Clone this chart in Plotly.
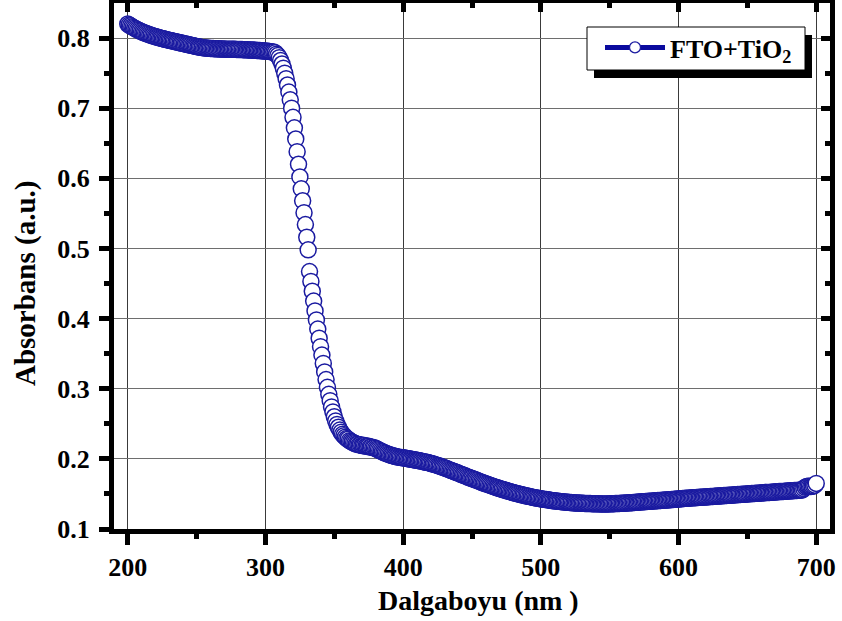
import plotly.graph_objects as go

# Measured absorbance of the FTO+TiO2 film, 1 nm steps
wl_uv = list(range(200, 306))
abs_uv = [
    0.8200, 0.8187, 0.8175, 0.8163, 0.8152, 0.8141, 0.8130, 0.8120, 0.8110, 0.8101,
    0.8092, 0.8083, 0.8075, 0.8067, 0.8060, 0.8053, 0.8046, 0.8039, 0.8033, 0.8027,
    0.8021, 0.8015, 0.8010, 0.8004, 0.7999, 0.7994, 0.7989, 0.7984, 0.7979, 0.7974,
    0.7970, 0.7965, 0.7961, 0.7956, 0.7952, 0.7947, 0.7943, 0.7938, 0.7934, 0.7929,
    0.7925, 0.7920, 0.7916, 0.7911, 0.7907, 0.7902, 0.7898, 0.7893, 0.7889, 0.7884,
    0.7880, 0.7876, 0.7872, 0.7868, 0.7865, 0.7862, 0.7860, 0.7858, 0.7856, 0.7854,
    0.7853, 0.7851, 0.7850, 0.7849, 0.7848, 0.7847, 0.7846, 0.7845, 0.7844, 0.7843,
    0.7843, 0.7842, 0.7842, 0.7841, 0.7841, 0.7840, 0.7840, 0.7839, 0.7839, 0.7838,
    0.7838, 0.7837, 0.7837, 0.7836, 0.7835, 0.7834, 0.7833, 0.7832, 0.7831, 0.7830,
    0.7829, 0.7828, 0.7827, 0.7825, 0.7824, 0.7822, 0.7821, 0.7819, 0.7818, 0.7816,
    0.7815, 0.7813, 0.7811, 0.7808, 0.7806, 0.7803,
]

wl_edge = list(range(306, 381))
abs_edge = [
    0.780, 0.779, 0.777, 0.775, 0.772, 0.768, 0.763, 0.757, 0.750, 0.742,
    0.733, 0.723, 0.712, 0.700, 0.687, 0.672, 0.656, 0.638, 0.620, 0.602,
    0.585, 0.568, 0.551, 0.534, 0.516, 0.498,
    0.467, 0.453, 0.439, 0.425, 0.411, 0.398, 0.385, 0.372, 0.360, 0.348,
    0.336, 0.324, 0.313, 0.302, 0.292, 0.283, 0.274, 0.267, 0.260, 0.254,
    0.249, 0.245, 0.241, 0.238, 0.235, 0.233, 0.231, 0.229, 0.228, 0.226,
    0.225, 0.224, 0.223, 0.222, 0.221, 0.221, 0.220, 0.220, 0.219, 0.219,
    0.219, 0.218, 0.218, 0.218, 0.217, 0.217, 0.216, 0.216, 0.215,
]

wl_vis = list(range(381, 701))
abs_vis = [
    0.2140, 0.2130, 0.2120, 0.2110, 0.2100, 0.2090, 0.2082, 0.2075, 0.2067, 0.2060,
    0.2054, 0.2048, 0.2042, 0.2037, 0.2032, 0.2027, 0.2024, 0.2021, 0.2018,
    0.2015, 0.2011, 0.2008, 0.2004, 0.2001, 0.1997, 0.1994, 0.1990, 0.1987, 0.1983,
    0.1980, 0.1976, 0.1972, 0.1968, 0.1964, 0.1960, 0.1956, 0.1951, 0.1947, 0.1942,
    0.1937, 0.1931, 0.1926, 0.1920, 0.1914, 0.1907, 0.1901, 0.1894, 0.1887, 0.1880,
    0.1873, 0.1865, 0.1858, 0.1850, 0.1843, 0.1835, 0.1828, 0.1820, 0.1812, 0.1804,
    0.1797, 0.1789, 0.1781, 0.1773, 0.1766, 0.1758, 0.1750, 0.1742, 0.1735, 0.1727,
    0.1720, 0.1712, 0.1705, 0.1697, 0.1690, 0.1682, 0.1675, 0.1667, 0.1660, 0.1653,
    0.1646, 0.1639, 0.1632, 0.1625, 0.1618, 0.1611, 0.1604, 0.1597, 0.1591, 0.1584,
    0.1578, 0.1572, 0.1566, 0.1560, 0.1554, 0.1548, 0.1542, 0.1536, 0.1531, 0.1525,
    0.1520, 0.1514, 0.1509, 0.1504, 0.1499, 0.1494, 0.1489, 0.1484, 0.1480, 0.1475,
    0.1471, 0.1466, 0.1462, 0.1458, 0.1454, 0.1450, 0.1446, 0.1442, 0.1439, 0.1435,
    0.1432, 0.1428, 0.1425, 0.1422, 0.1419, 0.1416, 0.1413, 0.1410, 0.1407, 0.1404,
    0.1402, 0.1399, 0.1397, 0.1394, 0.1392, 0.1390, 0.1388, 0.1386, 0.1384, 0.1382,
    0.1380, 0.1378, 0.1377, 0.1375, 0.1374, 0.1372, 0.1371, 0.1370, 0.1369, 0.1368,
    0.1367, 0.1366, 0.1365, 0.1364, 0.1363, 0.1362, 0.1362, 0.1361, 0.1361, 0.1360,
    0.1360, 0.1359, 0.1359, 0.1358, 0.1358, 0.1358, 0.1358, 0.1358, 0.1358, 0.1358,
    0.1359, 0.1359, 0.1360, 0.1361, 0.1362, 0.1363, 0.1364, 0.1365, 0.1366, 0.1367,
    0.1368, 0.1369, 0.1371, 0.1372, 0.1373, 0.1375, 0.1376, 0.1378, 0.1379, 0.1381,
    0.1382, 0.1384, 0.1385, 0.1387, 0.1388, 0.1390, 0.1391, 0.1393, 0.1394, 0.1396,
    0.1397, 0.1399, 0.1400, 0.1402, 0.1403, 0.1405, 0.1406, 0.1408, 0.1409, 0.1411,
    0.1412, 0.1414, 0.1415, 0.1417, 0.1418, 0.1420, 0.1421, 0.1423, 0.1424, 0.1426,
    0.1428, 0.1430, 0.1432, 0.1434, 0.1436, 0.1437, 0.1438, 0.1440, 0.1441, 0.1443,
    0.1444, 0.1446, 0.1447, 0.1449, 0.1450, 0.1451, 0.1452, 0.1454, 0.1455, 0.1457,
    0.1458, 0.1460, 0.1461, 0.1463, 0.1464, 0.1465, 0.1466, 0.1468, 0.1469, 0.1471,
    0.1472, 0.1474, 0.1475, 0.1477, 0.1478, 0.1479, 0.1480, 0.1482, 0.1483, 0.1485,
    0.1486, 0.1488, 0.1489, 0.1491, 0.1492, 0.1493, 0.1494, 0.1496, 0.1497, 0.1499,
    0.1500, 0.1502, 0.1503, 0.1505, 0.1506, 0.1507, 0.1508, 0.1510, 0.1511, 0.1513,
    0.1514, 0.1516, 0.1517, 0.1519, 0.1520, 0.1521, 0.1522, 0.1524, 0.1525, 0.1527,
    0.1528, 0.1530, 0.1531, 0.1533, 0.1534, 0.1535, 0.1536, 0.1538, 0.1539, 0.1541,
    0.1542, 0.1544, 0.1545, 0.1547, 0.1548, 0.1549, 0.1550, 0.1552, 0.1553, 0.1555,
    0.1560, 0.1575, 0.1595, 0.1605, 0.1610, 0.1608, 0.1605, 0.1610, 0.1615, 0.1625,
    0.1650,
]

x_ticks = [200, 300, 400, 500, 600, 700]
x_minor = [250, 350, 450, 550, 650]
y_ticks = [0.1, 0.2, 0.3, 0.4, 0.5, 0.6, 0.7, 0.8]
y_minor = [0.15, 0.25, 0.35, 0.45, 0.55, 0.65, 0.75]
x_range = [190, 710]
y_range = [0.1, 0.85]

series_name = "<b>FTO+TiO<sub>2</sub></b>"
x_title = "<b>Dalgaboyu (nm )</b>"
y_title = "<b>Absorbans (a.u.)</b>"

assert len(wl_uv) == len(abs_uv)
assert len(wl_edge) == len(abs_edge)
assert len(wl_vis) == len(abs_vis)
wavelength = wl_uv + wl_edge + wl_vis
absorbance = abs_uv + abs_edge + abs_vis

SERIF = "Liberation Serif"
MARK = "#1a1aa0"
LINE = "#0a0a9e"

fig = go.Figure()
fig.add_trace(go.Scatter(
    x=wavelength, y=absorbance, mode="markers", showlegend=False,
    marker=dict(symbol="circle", size=16, color="white",
                line=dict(color=MARK, width=1.5)),
))
# legend entry (line + open circle), placed on the overlay axes
fig.add_trace(go.Scatter(
    x=[None], y=[None], mode="lines+markers", name=series_name,
    xaxis="x2", yaxis="y2",
    line=dict(color=LINE, width=5),
    marker=dict(symbol="circle", size=11, color="white",
                line=dict(color=MARK, width=1.3)),
))

L, R, T, B = 114, 12, 3, 92
W, H = 842, 621
pw, ph = W - L - R, H - T - B


def px(xp):
    return (xp - L) / pw


def py(yp):
    return (H - B - yp) / ph


tickfont = dict(family=SERIF, size=26, color="black", weight="bold")
common = dict(showline=True, linewidth=5, linecolor="black", zeroline=False,
              tickcolor="black", tickwidth=5)

fig.update_layout(
    width=W, height=H,
    margin=dict(l=L, r=R, t=T, b=B),
    paper_bgcolor="white", plot_bgcolor="white",
    xaxis=dict(range=x_range, tickvals=x_ticks, ticks="outside", ticklen=11,
               tickfont=tickfont, showgrid=True, gridcolor="#3a3a3a", gridwidth=1,
               minor=dict(tickvals=x_minor, ticks="outside",
                          ticklen=5, tickwidth=5, tickcolor="black", showgrid=False),
               **common),
    yaxis=dict(range=y_range, tickvals=y_ticks, ticks="outside", ticklen=10,
               tickformat=".1f", tickfont=tickfont, ticklabelstandoff=4,
               showgrid=True, gridcolor="#6e6e6e", gridwidth=1.2,
               minor=dict(tickvals=y_minor, ticks="outside", ticklen=5,
                          tickwidth=5, tickcolor="black", showgrid=False),
               **common),
    xaxis2=dict(range=x_range, overlaying="x", side="top", anchor="y2",
                tickvals=x_ticks, ticks="inside", ticklen=9, showticklabels=False,
                showgrid=False,
                minor=dict(tickvals=x_minor, ticks="inside", ticklen=5,
                           tickwidth=5, tickcolor="black"),
                **common),
    yaxis2=dict(range=y_range, overlaying="y", side="right", anchor="x2",
                tickvals=y_ticks, ticks="inside", ticklen=9, showticklabels=False,
                showgrid=False,
                minor=dict(tickvals=y_minor, ticks="inside", ticklen=5,
                           tickwidth=5, tickcolor="black"),
                **common),
    legend=dict(x=px(600), y=py(24), xanchor="left", yanchor="top",
                bgcolor="rgba(0,0,0,0)", borderwidth=0,
                font=dict(family=SERIF, size=26, color="black"),
                itemwidth=60, tracegroupgap=0),
    shapes=[
        # drop shadow and frame of the legend box
        dict(type="rect", xref="paper", yref="paper",
             x0=px(594), x1=px(812), y0=py(35), y1=py(78),
             fillcolor="black", line=dict(width=0), layer="above"),
        dict(type="rect", xref="paper", yref="paper",
             x0=px(587), x1=px(805), y0=py(27), y1=py(70),
             fillcolor="white", line=dict(color="black", width=1), layer="above"),
    ],
    annotations=[
        dict(text=x_title, xref="paper", yref="paper", x=px(478), y=py(600),
             xanchor="center", yanchor="middle", showarrow=False,
             font=dict(family=SERIF, size=28, color="black")),
        dict(text=y_title, xref="paper", yref="paper", x=px(25), y=py(284),
             xanchor="center", yanchor="middle", showarrow=False, textangle=-90,
             font=dict(family=SERIF, size=29, color="black")),
    ],
)

fig.write_html("out.html")
